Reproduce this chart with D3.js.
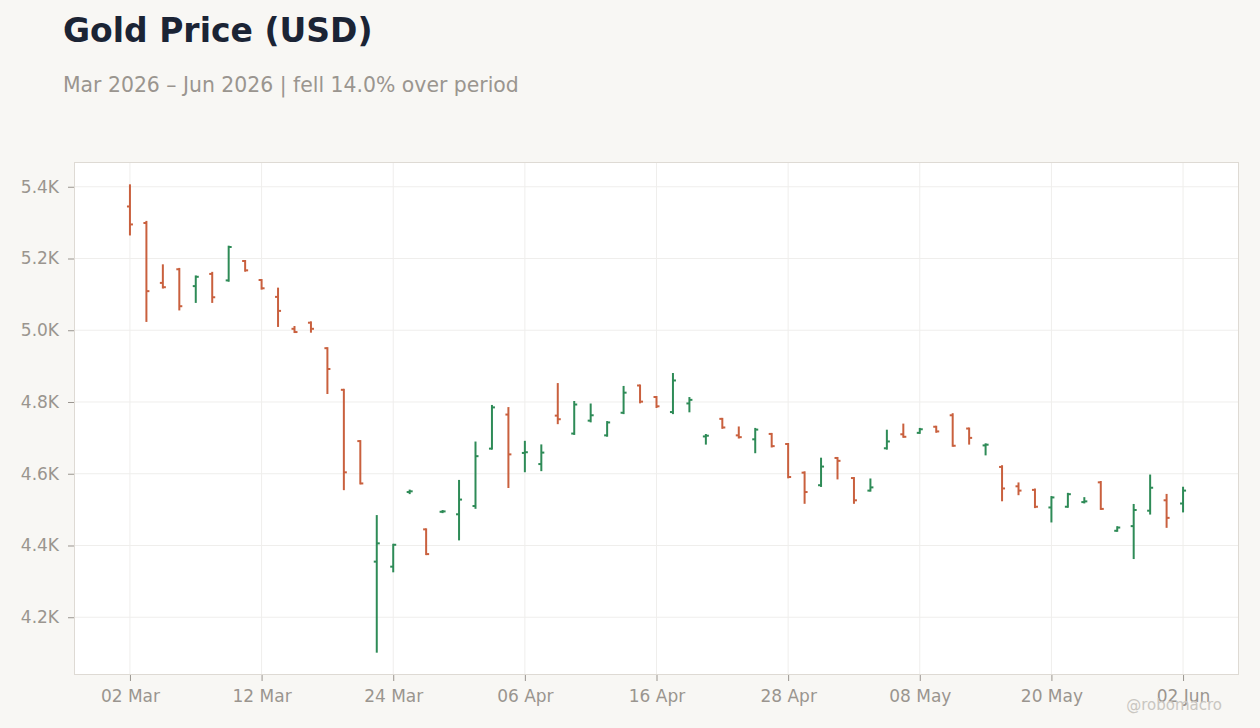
<!DOCTYPE html>
<html>
<head>
<meta charset="utf-8">
<script src="https://cdn.jsdelivr.net/npm/d3@7"></script>
<style>
  html, body { margin: 0; padding: 0; background: #f8f7f4; }
  svg { display: block; font-family: "DejaVu Sans", sans-serif; }
</style>
</head>
<body>
<svg id="chart" width="1260" height="728"></svg>
<script>
// trading days, Mar 2 – Jun 2 2026
const dates = [
  '2026-03-02','2026-03-03','2026-03-04','2026-03-05','2026-03-06','2026-03-09','2026-03-10','2026-03-11','2026-03-12','2026-03-13',
  '2026-03-16','2026-03-17','2026-03-18','2026-03-19','2026-03-20','2026-03-23','2026-03-24','2026-03-25','2026-03-26','2026-03-27',
  '2026-03-30','2026-03-31','2026-04-01','2026-04-02','2026-04-06','2026-04-07','2026-04-08','2026-04-09','2026-04-10','2026-04-13',
  '2026-04-14','2026-04-15','2026-04-16','2026-04-17','2026-04-20','2026-04-21','2026-04-22','2026-04-23','2026-04-24','2026-04-27',
  '2026-04-28','2026-04-29','2026-04-30','2026-05-01','2026-05-04','2026-05-05','2026-05-06','2026-05-07','2026-05-08','2026-05-11',
  '2026-05-12','2026-05-13','2026-05-14','2026-05-15','2026-05-18','2026-05-19','2026-05-20','2026-05-21','2026-05-22','2026-05-26',
  '2026-05-27','2026-05-28','2026-05-29','2026-06-01','2026-06-02'
];
const open = [
  5345,5299,5132,5170,5123,5157,5139,5193,5140,5093,
  5004,5021,4950,4834,4691,4355,4341,4549,4445,4494,
  4487,4510,4670,4765,4658,4627,4762,4712,4748,4707,
  4770,4846,4814,4772,4796,4704,4753,4707,4696,4711,
  4683,4603,4568,4644,4588,4553,4671,4710,4714,4731,
  4763,4726,4679,4619,4565,4555,4506,4508,4521,4576,
  4441,4454,4497,4526,4517
];
const high = [
  5404,5302,5181,5171,5150,5160,5233,5193,5140,5116,
  5009,5022,4950,4834,4691,4482,4402,4553,4445,4496,
  4580,4687,4789,4783,4689,4679,4850,4800,4793,4744,
  4842,4846,4814,4878,4811,4708,4753,4729,4725,4711,
  4683,4604,4642,4644,4588,4584,4720,4737,4725,4731,
  4766,4726,4682,4621,4573,4556,4535,4544,4532,4577,
  4451,4513,4595,4541,4561
];
const low = [
  5267,5026,5119,5058,5079,5079,5138,5166,5116,5012,
  4995,4996,4825,4557,4573,4104,4328,4546,4376,4493,
  4417,4505,4670,4563,4607,4610,4741,4711,4746,4706,
  4769,4799,4786,4769,4774,4684,4728,4701,4660,4676,
  4590,4519,4566,4587,4519,4553,4670,4703,4714,4717,
  4678,4684,4654,4526,4543,4507,4467,4508,4520,4502,
  4441,4365,4489,4452,4495
];
const close = [
  5295,5109,5120,5067,5149,5092,5232,5167,5117,5054,
  4995,5004,4892,4604,4573,4406,4402,4551,4376,4495,
  4528,4649,4785,4654,4660,4659,4752,4793,4763,4743,
  4826,4801,4788,4860,4806,4706,4729,4702,4723,4677,
  4591,4549,4620,4636,4526,4562,4690,4703,4724,4718,
  4678,4700,4681,4559,4553,4508,4534,4543,4523,4502,
  4450,4499,4561,4477,4553
];
const xTickDates = ['2026-03-02','2026-03-12','2026-03-24','2026-04-06','2026-04-16','2026-04-28','2026-05-08','2026-05-20','2026-06-02'];
const yTickValues = [4200, 4400, 4600, 4800, 5000, 5200, 5400];

const UP = '#2e8b57', DOWN = '#c9603e';
const svg = d3.select('#chart');
const L = 74, R = 1239, T = 162, B = 675;

const bars = dates.map((d, i) => ({ d, o: open[i], h: high[i], l: low[i], c: close[i] }));
const lo = d3.min(low), hi = d3.max(high), pad = (hi - lo) * 0.05;

const x = d3.scalePoint().domain(dates).range([L, R]).padding(3.4);
const y = d3.scaleLinear().domain([lo - pad, hi + pad]).range([B, T]);
const fmtDate = d3.timeFormat('%d %b');
const parse = d3.timeParse('%Y-%m-%d');

// title block
const chg = (close[close.length - 1] / close[0] - 1) * 100;
svg.append('text').attr('x', 63).attr('y', 42)
  .attr('font-size', 33).attr('font-weight', 'bold').attr('fill', '#1b2435')
  .text('Gold Price (USD)');
svg.append('text').attr('x', 63).attr('y', 92)
  .attr('font-size', 20.4).attr('fill', '#9a958f')
  .text(`Mar 2026 – Jun 2026 | ${chg < 0 ? 'fell' : 'rose'} ${Math.abs(chg).toFixed(1)}% over period`);

// plot panel
svg.append('rect').attr('x', L).attr('y', T).attr('width', R - L).attr('height', B - T)
  .attr('fill', '#ffffff');

const grid = svg.append('g');
grid.selectAll('.gy').data(yTickValues).join('line')
  .attr('x1', L).attr('x2', R).attr('y1', d => y(d)).attr('y2', d => y(d))
  .attr('stroke', '#efeeec').attr('stroke-width', 1);
grid.selectAll('.gx').data(xTickDates).join('line')
  .attr('x1', d => x(d)).attr('x2', d => x(d)).attr('y1', T).attr('y2', B)
  .attr('stroke', '#efeeec').attr('stroke-width', 1);

svg.append('rect').attr('x', L + 0.5).attr('y', T + 0.5).attr('width', R - L - 1).attr('height', B - T - 1)
  .attr('fill', 'none').attr('stroke', '#dedad4');

// axes
const xAxis = svg.append('g').attr('transform', `translate(0,${B})`)
  .call(d3.axisBottom(x).tickValues(xTickDates).tickSize(6).tickPadding(9)
    .tickFormat(d => fmtDate(parse(d))));
const yAxis = svg.append('g').attr('transform', `translate(${L},0)`)
  .call(d3.axisLeft(y).tickValues(yTickValues).tickSize(6).tickPadding(9)
    .tickFormat(d => (d / 1000).toFixed(1) + 'K'));
[xAxis, yAxis].forEach(g => {
  g.select('.domain').remove();
  g.selectAll('line').attr('stroke', '#9a958f');
  g.selectAll('text').attr('fill', '#9a958f').attr('font-size', 17)
    .attr('font-family', '"DejaVu Sans", sans-serif');
});

// OHLC bars
const tick = 3;
const g = svg.append('g');
const bar = g.selectAll('g.bar').data(bars).join('g')
  .attr('stroke', d => d.c >= d.o ? UP : DOWN).attr('stroke-width', 2);
bar.append('line')
  .attr('x1', d => x(d.d)).attr('x2', d => x(d.d))
  .attr('y1', d => y(d.h) - 1).attr('y2', d => y(d.l) + 1);
bar.append('line')
  .attr('x1', d => x(d.d) - tick).attr('x2', d => x(d.d))
  .attr('y1', d => y(d.o)).attr('y2', d => y(d.o));
bar.append('line')
  .attr('x1', d => x(d.d)).attr('x2', d => x(d.d) + tick)
  .attr('y1', d => y(d.c)).attr('y2', d => y(d.c));

// watermark
svg.append('text').attr('x', 1222).attr('y', 710).attr('text-anchor', 'end')
  .attr('font-size', 15).attr('fill', '#c9c6c1').text('@robomacro');
</script>
</body>
</html>
